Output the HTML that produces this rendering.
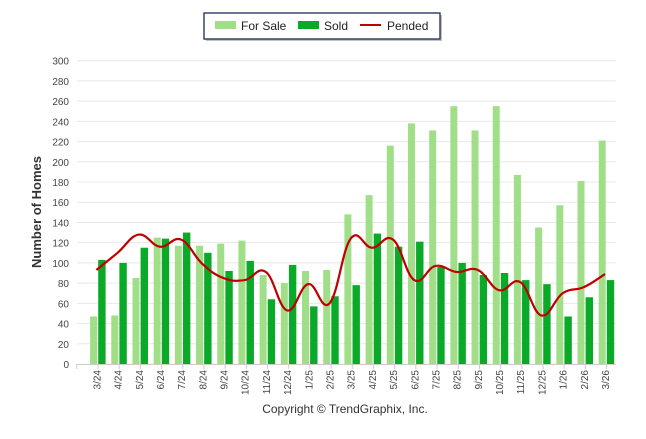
<!DOCTYPE html>
<html><head><meta charset="utf-8"><style>
body{margin:0;background:#fff;width:646px;height:434px;overflow:hidden;font-family:"Liberation Sans",sans-serif}
</style></head><body>
<svg id="chart" width="646" height="434" xmlns="http://www.w3.org/2000/svg" font-family="Liberation Sans, sans-serif">
<g id="grid"></g>
<g id="yticks"></g>
<g id="bars"></g>
<path id="pended" fill="none" stroke="#c00000" stroke-width="2.2"/>
<g id="xaxis"></g>
<text transform="translate(41,212) rotate(-90)" text-anchor="middle" font-size="13" font-weight="bold" fill="#333">Number of Homes</text>
<text x="345" y="413" text-anchor="middle" font-size="12" fill="#333">Copyright © TrendGraphix, Inc.</text>
<g>
<rect x="206" y="15" width="236" height="26" fill="#888" opacity="0.5"/>
<rect x="204" y="13" width="236" height="26" fill="#fff" stroke="#1a2a55" stroke-width="1.3"/>
<g><rect x="215" y="21" width="21" height="8" fill="#a0df88"/><text x="241" y="30" font-size="12" fill="#222">For Sale</text></g>
<g><rect x="298" y="21" width="21" height="8" fill="#0aa928"/><text x="324" y="30" font-size="12" fill="#222">Sold</text></g>
<g><line x1="360" y1="25" x2="381" y2="25" stroke="#c00000" stroke-width="2"/><text x="387" y="30" font-size="12" fill="#222">Pended</text></g>
</g>
</svg>
<script>
const categories=["3/24","4/24","5/24","6/24","7/24","8/24","9/24","10/24","11/24","12/24","1/25","2/25","3/25","4/25","5/25","6/25","7/25","8/25","9/25","10/25","11/25","12/25","1/26","2/26","3/26"];
const forSale=[47,48,85,125,117,117,119,122,88,80,92,93,148,167,216,238,231,255,231,255,187,135,157,181,221];
const sold=[103,100,115,124,130,110,92,102,64,98,57,67,78,129,116,121,96,100,88,90,83,79,47,66,83];
const pended=[93,110,128,116,123,99,85,83,91,53,79,60,124,115,123,83,97,91,93,73,81,48,70,76,89];
const yTicks=[0,20,40,60,80,100,120,140,160,180,200,220,240,260,280,300];
const NS="http://www.w3.org/2000/svg";
const L=85.8,R=615.6,Y0=364,Y1=60.7,YMAX=300;
const bw=(R-L)/categories.length;
const xc=i=>L+bw*(i+0.5);
const y=v=>Y0-(v/YMAX)*(Y0-Y1);
function mk(t,a,p){const e=document.createElementNS(NS,t);for(const k in a)e.setAttribute(k,a[k]);p.appendChild(e);return e;}
const grid=document.getElementById('grid'),yt=document.getElementById('yticks'),bars=document.getElementById('bars'),xa=document.getElementById('xaxis');
yTicks.forEach(v=>{
 if(v>0){const g=mk('line',{x1:77,x2:R,y1:y(v),y2:y(v),stroke:'#e8e8e8','stroke-width':1},grid);
 
 }
 const t=mk('text',{x:69,y:y(v)+4,'text-anchor':'end','font-size':10,fill:'#444'},yt);t.textContent=v;
 
 
});
categories.forEach((c,i)=>{
 const a=mk('rect',{x:xc(i)-6.3,y:y(forSale[i]),width:7,height:Y0-y(forSale[i]),fill:'#a0df88'},bars);
 
 
 const b=mk('rect',{x:xc(i)+1.8,y:y(sold[i]),width:7.4,height:Y0-y(sold[i]),fill:'#0aa928'},bars);
 
 
 const t=mk('text',{transform:`translate(${xc(i)+4},370) rotate(-90)`,'text-anchor':'end','font-size':10,fill:'#444'},xa);
 t.textContent=c;
 
 
});
for(let i=0;i<=categories.length;i++){
 const tk=mk('line',{x1:L+bw*i-9,x2:L+bw*i-9,y1:Y0,y2:Y0+5,stroke:'#ccc'},xa);
 
 
}
const ax=mk('line',{x1:77,x2:R,y1:Y0+0.5,y2:Y0+0.5,stroke:'#ccc'},xa);


const pts=pended.map((v,i)=>[xc(i),y(v)]);
let d='M'+pts[0][0]+','+pts[0][1];
for(let i=0;i<pts.length-1;i++){
 const p0=pts[Math.max(0,i-1)],p1=pts[i],p2=pts[i+1],p3=pts[Math.min(pts.length-1,i+2)];
 const t=0.2;
 d+=` C${p1[0]+(p2[0]-p0[0])*t},${p1[1]+(p2[1]-p0[1])*t} ${p2[0]-(p3[0]-p1[0])*t},${p2[1]-(p3[1]-p1[1])*t} ${p2[0]},${p2[1]}`;
}
document.getElementById('pended').setAttribute('d',d);
</script>
</body></html>
